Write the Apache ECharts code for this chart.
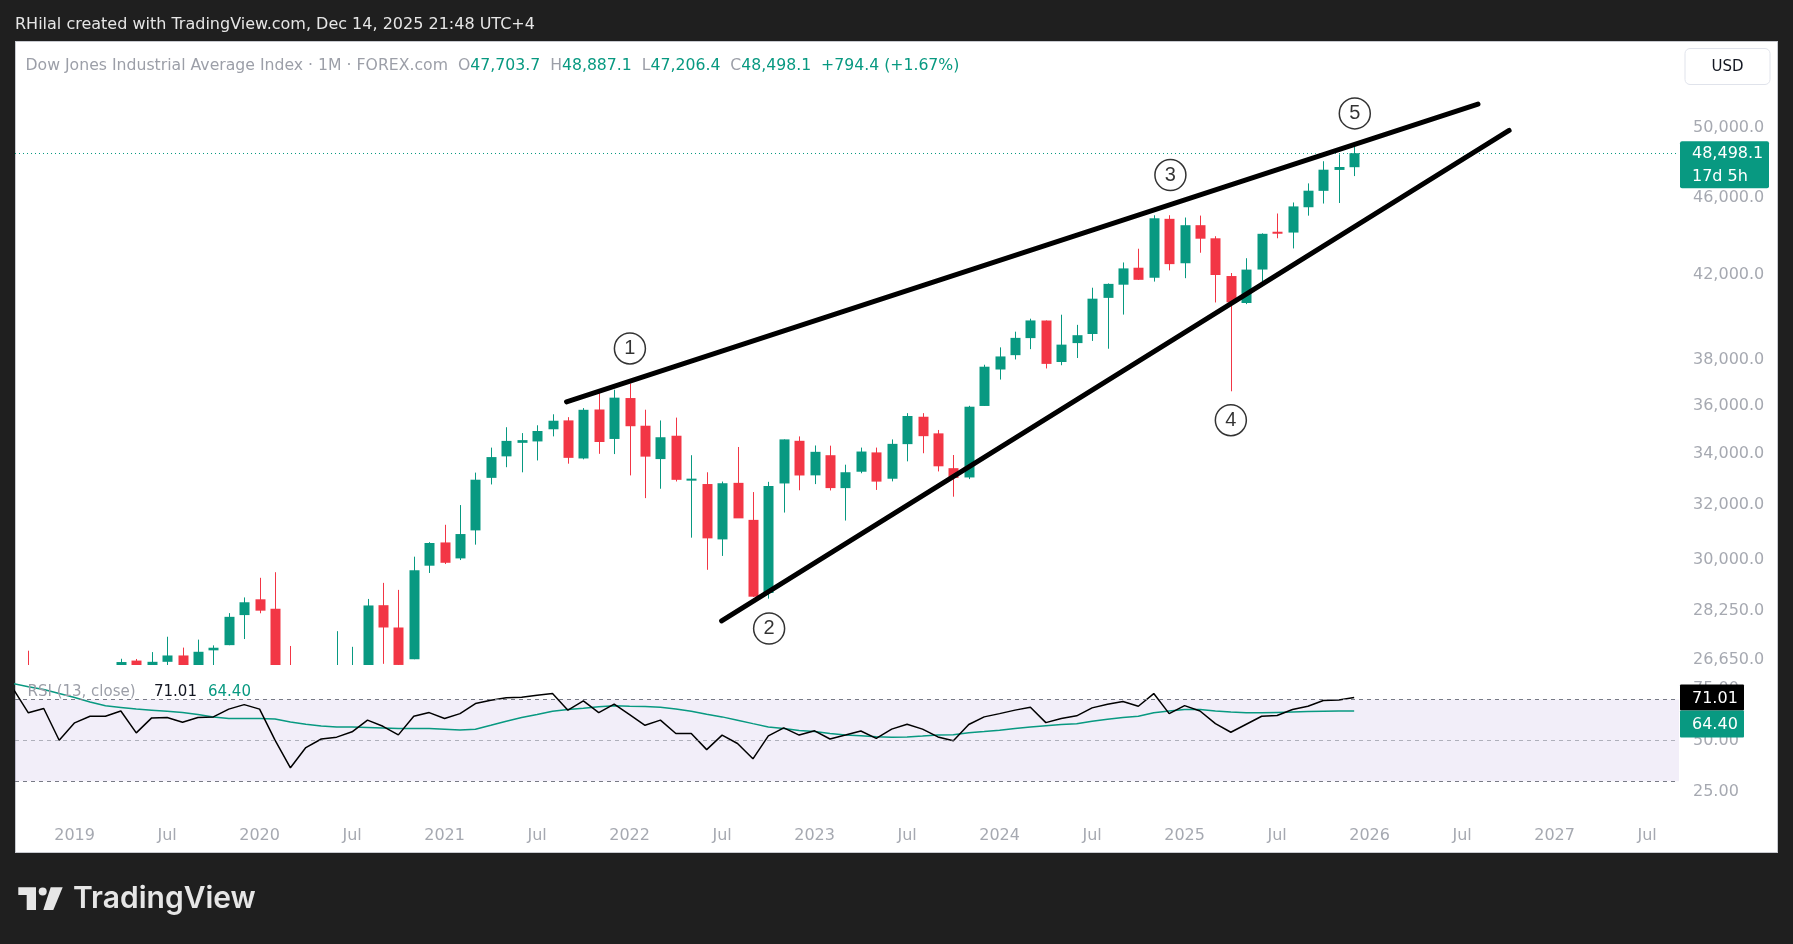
<!DOCTYPE html>
<html>
<head>
<meta charset="utf-8">
<title>Dow Jones Industrial Average Index · 1M · FOREX.com</title>
<script src="https://cdn.jsdelivr.net/npm/echarts@6/dist/echarts.min.js"></script>
<style>
  html, body { margin: 0; padding: 0; background: #1f1f1f; overflow: hidden; }
  #panel { position: absolute; left: 15px; top: 41px; width: 1763px; height: 812px;
           box-sizing: border-box; background: #fff; border: 1px solid #c8cad0; }
  #main { position: absolute; left: 0; top: 0; width: 1793px; height: 944px; }
</style>
</head>
<body>
<div id="panel"></div>
<div id="main"></div>
<script>
// monthly bars, Sep 2018 .. Dec 2025
var months = [
  '2018-09', '2018-10', '2018-11', '2018-12',
  '2019-01', '2019-02', '2019-03', '2019-04', '2019-05', '2019-06', '2019-07', '2019-08', '2019-09', '2019-10', '2019-11', '2019-12',
  '2020-01', '2020-02', '2020-03', '2020-04', '2020-05', '2020-06', '2020-07', '2020-08', '2020-09', '2020-10', '2020-11', '2020-12',
  '2021-01', '2021-02', '2021-03', '2021-04', '2021-05', '2021-06', '2021-07', '2021-08', '2021-09', '2021-10', '2021-11', '2021-12',
  '2022-01', '2022-02', '2022-03', '2022-04', '2022-05', '2022-06', '2022-07', '2022-08', '2022-09', '2022-10', '2022-11', '2022-12',
  '2023-01', '2023-02', '2023-03', '2023-04', '2023-05', '2023-06', '2023-07', '2023-08', '2023-09', '2023-10', '2023-11', '2023-12',
  '2024-01', '2024-02', '2024-03', '2024-04', '2024-05', '2024-06', '2024-07', '2024-08', '2024-09', '2024-10', '2024-11', '2024-12',
  '2025-01', '2025-02', '2025-03', '2025-04', '2025-05', '2025-06', '2025-07', '2025-08', '2025-09', '2025-10', '2025-11', '2025-12'
];

var opens = [
  25964, 26450, 25147, 25779,
  23058, 25025, 25954, 26075, 26639, 24819, 26600, 26800, 26380, 26963, 27129, 28109,
  28638, 28319, 25591, 21227, 24120, 25342, 25879, 26419, 28439, 27700, 26681, 29797,
  30627, 30055, 31066, 33054, 33904, 34450, 34507, 35006, 35375, 33820, 35833, 34608,
  36321, 35153, 33795, 34740, 32978, 32814, 30737, 32860, 31454, 28855, 32836, 34533,
  33152, 33950, 32656, 33294, 34063, 33020, 34397, 35528, 34837, 33434, 33070, 35983,
  37566, 38208, 38985, 39803, 37901, 38756, 39174, 40882, 41523, 42364, 41865, 44882,
  42588, 44546, 43862, 41950, 40636, 42273, 44171, 44160, 45500, 46390, 47550, 47703.7
];
var highs = [
  26769, 26951, 26277, 25980,
  25075, 26241, 26155, 26696, 26689, 26907, 27399, 27050, 27306, 27122, 28174, 28701,
  29374, 29569, 27102, 24764, 25758, 27580, 27075, 28650, 29199, 28958, 30116, 30637,
  31272, 32009, 33259, 34256, 35091, 34849, 35171, 35631, 35510, 35892, 36565, 36679,
  36953, 35824, 35372, 35492, 33950, 33272, 32910, 34281, 32504, 32899, 34589, 34712,
  34342, 34335, 33572, 34257, 34257, 34589, 35679, 35679, 34977, 33958, 35989, 37778,
  38561, 39282, 39889, 39807, 40077, 39600, 41376, 41585, 42628, 43325, 45071, 45073,
  44950, 45054, 43970, 42100, 42842, 44119, 45165, 45757, 46800, 48040, 48431, 48887.1
];
var lows = [
  25888, 24122, 24268, 21713,
  22639, 24883, 25208, 25924, 24743, 24680, 26487, 25339, 26012, 25743, 27126, 27325,
  28169, 24681, 18214, 20735, 22789, 24843, 25523, 25969, 26537, 26143, 26681, 29542,
  29856, 29997, 30547, 32798, 33473, 33271, 33741, 34713, 33613, 33785, 34006, 33996,
  33150, 32272, 32632, 32913, 30800, 29653, 30143, 31728, 28715, 28660, 31727, 32573,
  32812, 32565, 31429, 33235, 32586, 32917, 33705, 34029, 33306, 32327, 33006, 35981,
  37122, 38015, 38480, 37612, 37756, 38079, 38855, 38499, 40083, 41758, 41676, 42232,
  41844, 43120, 40661, 36612, 40582, 41611, 43863, 43340, 45050, 45700, 45728, 47206.4
];
var closes = [
  26458, 25116, 25538, 23327,
  25000, 25916, 25929, 26593, 24815, 26600, 26800, 26403, 26917, 27046, 28051, 28538,
  28256, 25409, 21917, 24346, 25383, 25813, 26428, 28430, 27700, 26502, 29639, 30606,
  29900, 30932, 32982, 33875, 34529, 34560, 34935, 35361, 33844, 35820, 34484, 36338,
  35132, 33893, 34678, 32977, 32990, 30775, 32845, 31510, 28726, 32733, 34590, 33147,
  34086, 32657, 33274, 34098, 32908, 34408, 35560, 34722, 33508, 33053, 35951, 37690,
  38150, 38996, 39807, 37816, 38686, 39119, 40843, 41563, 42330, 41763, 44911, 42544,
  44545, 43841, 42002, 40669, 42270, 44095, 44131, 45545, 46398, 47563, 47716, 48498.1
];

// RSI (13, close) and its moving average
var rsi = [
  75.4, 63.5, 65.6, 50.1,
  58.6, 61.8, 61.8, 64.4, 53.7, 61.0, 61.2, 58.9, 61.2, 61.5, 65.3, 67.5,
  65.3, 50.1, 36.6, 46.5, 50.7, 51.6, 54.2, 59.9, 56.9, 52.7, 61.8, 63.6,
  60.7, 63.1, 68.0, 69.6, 70.8, 71.1, 72.1, 72.9, 64.8, 69.3, 63.6, 67.7,
  62.6, 57.4, 59.9, 53.4, 53.4, 45.5, 52.6, 48.5, 41.0, 52.2, 56.1, 52.6,
  54.7, 50.7, 52.6, 54.6, 51.0, 55.5, 57.9, 55.5, 51.7, 49.8, 57.8, 61.5,
  63.1, 64.8, 66.2, 58.7, 60.7, 62.0, 65.9, 67.7, 69.0, 66.7, 72.9, 63.1,
  67.0, 64.4, 58.2, 54.0, 57.9, 61.8, 62.2, 65.1, 66.7, 69.5, 69.8, 71.01
];
var rsiMa = [
  77.8, 76.2, 74.9, 72.9,
  71.0, 68.8, 66.9, 66.1, 65.3, 64.8, 64.3, 63.6, 62.7, 61.5, 60.7, 60.7,
  60.7, 60.5, 59.0, 57.9, 57.1, 56.5, 56.5, 56.3, 56.1, 55.8, 55.8, 55.8,
  55.5, 55.1, 55.5, 57.4, 59.4, 61.2, 62.7, 64.3, 65.1, 65.7, 66.4, 66.9,
  66.7, 66.6, 66.2, 65.4, 64.3, 62.8, 61.5, 59.9, 58.2, 56.6, 55.8, 54.8,
  54.3, 53.4, 52.7, 52.3, 51.8, 51.6, 51.7, 52.1, 52.6, 52.8, 53.7, 54.3,
  55.0, 55.8, 56.6, 57.2, 57.8, 58.2, 59.4, 60.3, 61.2, 61.8, 63.5, 64.4,
  65.1, 65.1, 64.4, 63.9, 63.5, 63.5, 63.7, 63.9, 64.1, 64.3, 64.35, 64.40
];

// axis ticks
var priceTicks = [26650, 28250, 30000, 32000, 34000, 36000, 38000, 42000, 46000, 50000];
var rsiTicks = [25, 50, 75];
var rsiBands = [70, 50, 30];
var timeTicks = [0, 6, 12, 18, 24, 30, 36, 42, 48, 54, 60, 66, 72, 78, 84, 90, 96, 102];

// drawings: [month index from Jan 2019, price]
var upperLine = [[31.91, 36160], [91.03, 51395]];
var lowerLine = [[41.97, 27916], [93.05, 49817]];
var waveLabels = [[36.02, 38513, '1'], [45.05, 27666, '2'], [71.08, 47260, '3'], [75.0, 35385, '4'], [83.04, 50834, '5']];

var UP = '#089981', DOWN = '#f23645', AXIS_TXT = '#a6a9b1';
var FONT = 'DejaVu Sans';

function monthIndex(m) {
  var p = m.split('-');
  return (parseInt(p[0], 10) - 2019) * 12 + parseInt(p[1], 10) - 1;
}
function fmtPrice(v) {
  return v.toLocaleString('en-US', {minimumFractionDigits: 1, maximumFractionDigits: 1});
}

var candles = [], rsiData = [], maData = [];
for (var i = 0; i < months.length; i++) {
  var x = monthIndex(months[i]);
  candles.push([x, opens[i], closes[i], lows[i], highs[i]]);
  rsiData.push([x, rsi[i]]);
  maData.push([x, rsiMa[i]]);
}
var lastClose = closes[closes.length - 1];

var XMIN = -3.866, XMAX = 104.07;

// candle drawn through the axes, clipped to the price pane
function renderCandle(params, api) {
  var x = api.value(0), o = api.value(1), c = api.value(2), l = api.value(3), h = api.value(4);
  var pO = api.coord([x, o]), pC = api.coord([x, c]);
  var pL = api.coord([x, l]), pH = api.coord([x, h]);
  var color = c >= o ? UP : DOWN;
  var cx = Math.round(pO[0]);
  var top = Math.min(pO[1], pC[1]), bot = Math.max(pO[1], pC[1]);
  var bh = Math.max(bot - top, 2);
  return {
    type: 'group',
    children: [
      {type: 'line', shape: {x1: cx + 0.5, y1: pH[1], x2: cx + 0.5, y2: pL[1]}, style: {stroke: color, lineWidth: 1}},
      {type: 'rect', shape: {x: cx - 4.5, y: top - (bh - (bot - top)) / 2, width: 10, height: bh}, style: {fill: color}}
    ]
  };
}

var option = {
  animation: false,
  backgroundColor: 'transparent',
  textStyle: {fontFamily: FONT},
  grid: [
    {left: 15, right: 114, top: 41, height: 624},
    {left: 15, right: 114, top: 668, height: 144}
  ],
  xAxis: [
    {type: 'value', gridIndex: 0, min: XMIN, max: XMAX, show: false},
    {
      type: 'value', gridIndex: 1, min: XMIN, max: XMAX,
      axisLine: {show: false}, axisTick: {show: false}, splitLine: {show: false},
      axisLabel: {
        customValues: timeTicks, color: AXIS_TXT, fontSize: 16, fontFamily: FONT, margin: 16,
        formatter: function (v) { return v % 12 === 0 ? String(2019 + v / 12) : 'Jul'; }
      }
    }
  ],
  yAxis: [
    {
      type: 'log', gridIndex: 0, position: 'right', min: 26500, max: 55370,
      axisLine: {show: false}, axisTick: {show: false}, splitLine: {show: false}, minorTick: {show: false},
      axisLabel: {customValues: priceTicks, color: AXIS_TXT, fontSize: 16, fontFamily: FONT, margin: 14,
        formatter: function (v) { return fmtPrice(v); }}
    },
    {
      type: 'value', gridIndex: 1, position: 'right', min: 15, max: 85.4,
      axisLine: {show: false}, axisTick: {show: false}, splitLine: {show: false},
      axisLabel: {customValues: rsiTicks, color: AXIS_TXT, fontSize: 16, fontFamily: FONT, margin: 14,
        formatter: function (v) { return v.toFixed(2); }}
    }
  ],
  series: [
    {
      type: 'custom', name: 'US30', xAxisIndex: 0, yAxisIndex: 0,
      data: candles, encode: {x: 0, y: [1, 2, 3, 4]},
      renderItem: renderCandle, clip: true, silent: true,
      markLine: {
        silent: true, symbol: ['none', 'none'], label: {show: false},
        lineStyle: {type: [1, 3], color: UP, width: 1},
        data: [{yAxis: lastClose}]
      }
    },
    {
      type: 'line', name: 'RSI', xAxisIndex: 1, yAxisIndex: 1, data: rsiData,
      symbol: 'none', lineStyle: {color: '#000', width: 1.5}, z: 4,
      markArea: {silent: true, itemStyle: {color: 'rgba(126,87,194,0.1)'}, data: [[{yAxis: 30}, {yAxis: 70}]]},
      markLine: {
        silent: true, symbol: ['none', 'none'], label: {show: false},
        data: rsiBands.map(function (b) {
          return {yAxis: b, lineStyle: {type: [4, 4], width: 1, color: b === 50 ? 'rgba(120,123,134,0.55)' : '#787b86'}};
        })
      }
    },
    {
      type: 'line', name: 'RSI MA', xAxisIndex: 1, yAxisIndex: 1, data: maData,
      symbol: 'none', lineStyle: {color: UP, width: 1.5}, z: 3
    },
    {
      type: 'line', xAxisIndex: 0, yAxisIndex: 0, data: upperLine, symbol: 'none', z: 5,
      lineStyle: {color: '#000', width: 5, cap: 'round'}
    },
    {
      type: 'line', xAxisIndex: 0, yAxisIndex: 0, data: lowerLine, symbol: 'none', z: 5,
      lineStyle: {color: '#000', width: 5, cap: 'round'}
    },
    {
      type: 'scatter', xAxisIndex: 0, yAxisIndex: 0, data: waveLabels, z: 6,
      symbol: 'circle', symbolSize: 31,
      itemStyle: {color: '#fff', borderColor: '#000', borderWidth: 1.5},
      label: {show: true, position: 'inside', color: '#000', fontSize: 20, fontFamily: 'Liberation Sans',
        formatter: function (p) { return p.data[2]; }}
    }
  ]
};

var chart = echarts.init(document.getElementById('main'));
chart.setOption(option);

// price / indicator tags and page texts
var pY = chart.convertToPixel({yAxisIndex: 0}, lastClose);
var rY = chart.convertToPixel({yAxisIndex: 1}, rsi[rsi.length - 1]);
var mY = chart.convertToPixel({yAxisIndex: 1}, rsiMa[rsiMa.length - 1]);
var rTop = rY - 13, mTop = Math.max(mY - 13, rTop + 26);

function txt(x, y, s, color, size, extra) {
  var st = {x: x, y: y, text: s, fill: color, font: (size || 16) + 'px "' + FONT + '"', verticalAlign: 'middle'};
  if (extra) for (var k in extra) st[k] = extra[k];
  return {type: 'text', style: st, z: 100};
}

var gray = '#9c9fa8';
var header = '{g|Dow Jones Industrial Average Index · 1M · FOREX.com  O}{v|' + fmtPrice(opens[opens.length - 1]) +
  '}{g|  H}{v|' + fmtPrice(highs[highs.length - 1]) + '}{g|  L}{v|' + fmtPrice(lows[lows.length - 1]) +
  '}{g|  C}{v|' + fmtPrice(lastClose) + '  +794.4 (+1.67%)}';

chart.setOption({
  graphic: [
    txt(15, 24.5, 'RHilal created with TradingView.com, Dec 14, 2025 21:48 UTC+4', '#e6e6e6', 16),
    {type: 'text', z: 100, style: {x: 25.5, y: 66, text: header, verticalAlign: 'middle', font: '15.7px "' + FONT + '"',
      rich: {g: {fill: gray, font: '15.7px "' + FONT + '"'}, v: {fill: UP, font: '15.7px "' + FONT + '"'}}}},
    {type: 'rect', shape: {x: 1685, y: 48.5, width: 85, height: 36, r: 5}, style: {fill: '#fff', stroke: '#e0e3eb', lineWidth: 1}, z: 99},
    txt(1727.5, 67.5, 'USD', '#131722', 15, {align: 'center'}),
    {type: 'rect', shape: {x: 1680, y: pY - 12, width: 89, height: 47, r: 2}, style: {fill: UP}, z: 99},
    txt(1692, pY + 1, fmtPrice(lastClose), '#fff', 16),
    txt(1692, pY + 24, '17d 5h', '#fff', 16),
    {type: 'rect', shape: {x: 1680, y: rTop, width: 64, height: 26, r: 1}, style: {fill: '#000'}, z: 99},
    txt(1692, rTop + 14, rsi[rsi.length - 1].toFixed(2), '#fff', 16),
    {type: 'rect', shape: {x: 1680, y: mTop, width: 64, height: 27, r: 1}, style: {fill: UP}, z: 99},
    txt(1692, mTop + 14.5, rsiMa[rsiMa.length - 1].toFixed(2), '#fff', 16),
    txt(27.5, 692.5, 'RSI (13, close)', gray, 15),
    txt(154, 692.5, rsi[rsi.length - 1].toFixed(2), '#131722', 15),
    txt(208, 692.5, rsiMa[rsiMa.length - 1].toFixed(2), UP, 15),
    // TradingView logo
    {type: 'polygon', shape: {points: [[18.3, 887.3], [36, 887.3], [36, 910], [26.7, 910], [26.7, 895], [18.3, 895]]}, style: {fill: '#e6e6e6'}, z: 100},
    {type: 'circle', shape: {cx: 42.7, cy: 891.6, r: 4}, style: {fill: '#e6e6e6'}, z: 100},
    {type: 'polygon', shape: {points: [[50.7, 887.3], [62.7, 887.3], [53.3, 910], [43.3, 910]]}, style: {fill: '#e6e6e6'}, z: 100},
    {type: 'text', style: {x: 73, y: 899, text: 'TradingView', fill: '#e6e6e6', font: '600 30px Inter', verticalAlign: 'middle'}, z: 100}
  ]
});
</script>
</body>
</html>
